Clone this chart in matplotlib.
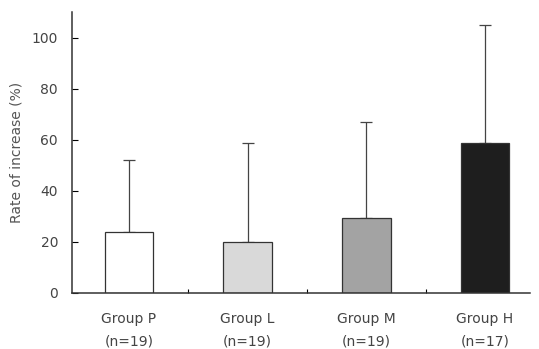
import matplotlib.pyplot as plt
import numpy as np

groups = ["Group P\n(n=19)", "Group L\n(n=19)", "Group M\n(n=19)", "Group H\n(n=17)"]
means = [23.8, 20.0, 29.3, 58.6]
sd_upper = [28.2, 38.6, 37.7, 46.4]
colors = ["#ffffff", "#d9d9d9", "#a3a3a3", "#1e1e1e"]
y_ticks = [0, 20, 40, 60, 80, 100]

fig = plt.figure(figsize=(5.39, 3.49), dpi=100)
ax = fig.add_axes([0.1336, 0.1605, 0.85, 0.805])

x = np.arange(len(groups))
ax.bar(x, means, width=0.41, color=colors, edgecolor="#333333", linewidth=0.9, zorder=2)
ax.errorbar(x, means, yerr=[np.zeros(len(means)), sd_upper], fmt="none",
            ecolor="#444444", elinewidth=0.9, capsize=4, capthick=0.9, zorder=1)

ax.set_xlim(-0.48, 3.38)
ax.set_ylim(0, 110)
ax.set_yticks(y_ticks)
ax.set_xticks(x)
ax.set_xticklabels(groups, fontsize=10, color="#444444", linespacing=1.7)
ax.set_xticks(x[:-1] + 0.5, minor=True)
ax.tick_params(axis="x", which="major", length=0, pad=14)
ax.tick_params(axis="x", which="minor", direction="in", length=3, width=0.8)
ax.tick_params(axis="y", direction="in", length=4, width=0.8, labelsize=10,
               labelcolor="#444444", pad=10)
ax.set_ylabel("Rate of increase (%)", fontsize=10, color="#555555", labelpad=6)

for side in ["top", "right"]:
    ax.spines[side].set_visible(False)
for side in ["left", "bottom"]:
    ax.spines[side].set_linewidth(1.1)
    ax.spines[side].set_color("#333333")

fig.savefig("out.png", dpi=100)
